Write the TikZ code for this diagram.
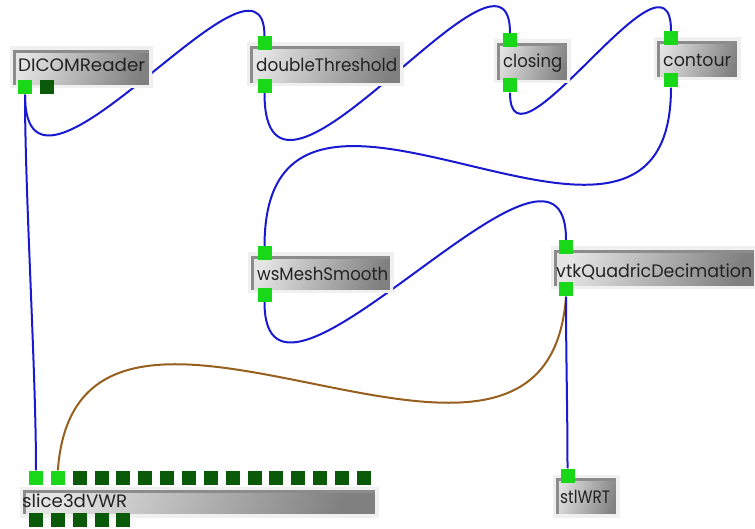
\documentclass[tikz,border=0pt]{standalone}
\usepackage{fontspec}
\setmainfont{Poppins}
\definecolor{portgreen}{RGB}{25,215,25}
\definecolor{portdark}{RGB}{10,90,10}
\definecolor{wireblue}{RGB}{25,25,210}
\definecolor{wirebrown}{RGB}{150,95,30}
\definecolor{txtc}{RGB}{35,35,35}
\pgfdeclarelayer{bg}
\pgfsetlayers{bg,main}
\newcommand{\fitw}[2]{\resizebox{#1pt}{\height}{#2}}
\tikzset{
  modbox/.style={rectangle, inner sep=0pt, left color=black!10, right color=black!50, shading angle=72,
    path picture={
      \draw[black!6, line width=6pt] (path picture bounding box.south west) rectangle (path picture bounding box.north east);
      \draw[black!45, line width=3pt]
        ([shift={(4.5pt,3pt)}]path picture bounding box.south west) --
        ([shift={(4.5pt,-4.5pt)}]path picture bounding box.north west) --
        ([shift={(-3pt,-4.5pt)}]path picture bounding box.north east);
    }},
  modlabel/.style={anchor=base west, inner sep=0pt, text=txtc, font=\fontsize{18}{20}\selectfont},
  gport/.style={rectangle, inner sep=0pt, minimum size=14pt, fill=portgreen},
  dport/.style={rectangle, inner sep=0pt, minimum size=14pt, fill=portdark},
  wire/.style={draw=wireblue, line width=2pt},
  wirebr/.style={draw=wirebrown, line width=2pt},
}
\begin{document}
\begin{tikzpicture}[x=1pt, y=-1pt]
\useasboundingbox (0,0) rectangle (755,529);

% module boxes
\node[modbox, minimum width=142pt, minimum height=41pt] (dicom) at (81,67.5) {};
\node[modbox, minimum width=156pt, minimum height=43pt] (dt) at (325,64.5) {};
\node[modbox, minimum width=76pt, minimum height=43pt] (closing) at (532,61.5) {};
\node[modbox, minimum width=86pt, minimum height=42pt] (contour) at (697,59) {};
\node[modbox, minimum width=145pt, minimum height=40pt] (ws) at (320.5,273) {};
\node[modbox, minimum width=206pt, minimum height=42pt] (vtk) at (654,268) {};
\node[modbox, minimum width=66pt, minimum height=42pt] (stl) at (586,496) {};
\node[modbox, minimum width=358pt, minimum height=30pt] (slice) at (199,502) {};

% labels
\node[modlabel] (dicomL) at (18,72) {\fitw{127}{DICOMReader}};
\node[modlabel] (dtL) at (256,72) {\fitw{141}{doubleThreshold}};
\node[modlabel] (closingL) at (503,68) {\fitw{59}{closing}};
\node[modlabel] (contourL) at (663,67) {\fitw{68}{contour}};
\node[modlabel] (wsL) at (257,280) {\fitw{131}{wsMeshSmooth}};
\node[modlabel] (vtkL) at (556,277) {\fitw{196}{vtkQuadricDecimation}};
\node[modlabel] (stlL) at (560,503) {\fitw{50}{stlWRT}};
\node[modlabel] (sliceL) at (22,507) {\fitw{105}{slice3dVWR}};

% ports
\node[gport] (dicomO1) at (25,87.5) {};
\node[dport] (dicomO2) at (47,87.5) {};
\node[gport] (dtI1) at (264.5,43.5) {};
\node[gport] (dtO1) at (264.5,86) {};
\node[gport] (closingI1) at (510,40) {};
\node[gport] (closingO1) at (510,85.5) {};
\node[gport] (contourI1) at (671,38) {};
\node[gport] (contourO1) at (671,80.5) {};
\node[gport] (wsI1) at (264.5,253.5) {};
\node[gport] (wsO1) at (264.5,295) {};
\node[gport] (vtkI1) at (566,247) {};
\node[gport] (vtkO1) at (566,289.5) {};
\node[gport] (stlI1) at (567.5,475.5) {};
\foreach \i in {1,2} \node[gport] (sliceT\i) at ({36+21.85*(\i-1)},477.5) {};
\foreach \i in {3,...,16} \node[dport] (sliceT\i) at ({36+21.85*(\i-1)},477.5) {};
\foreach \i in {1,...,5} \node[dport] (sliceB\i) at ({36+21.85*(\i-1)},519.5) {};

% connectors
\begin{pgfonlayer}{bg}
\draw[wire] (dicomO1.south) .. controls +(0,151) and +(0,-116) .. (dtI1.north);
\draw[wire] (dtO1.south) .. controls +(0,169) and +(0,-123) .. (closingI1.north);
\draw[wire] (closingO1.south) .. controls +(0,94) and +(0,-100) .. (contourI1.north);
\draw[wire] (contourO1.south) .. controls +(0,253) and +(0,-258) .. (wsI1.north);
\draw[wire] (wsO1.south) .. controls +(0,160) and +(0,-156) .. (vtkI1.north);
\draw[wirebr] (vtkO1.south) .. controls +(-20,272) and +(20,-272) .. (sliceT2.north);
\draw[wire] (vtkO1.south) .. controls +(0,60) and +(0,-60) .. (stlI1.north);
\draw[wire] (dicomO1.south) .. controls +(0,100) and +(0,-100) .. (sliceT1.north);
\end{pgfonlayer}
\end{tikzpicture}
\end{document}
